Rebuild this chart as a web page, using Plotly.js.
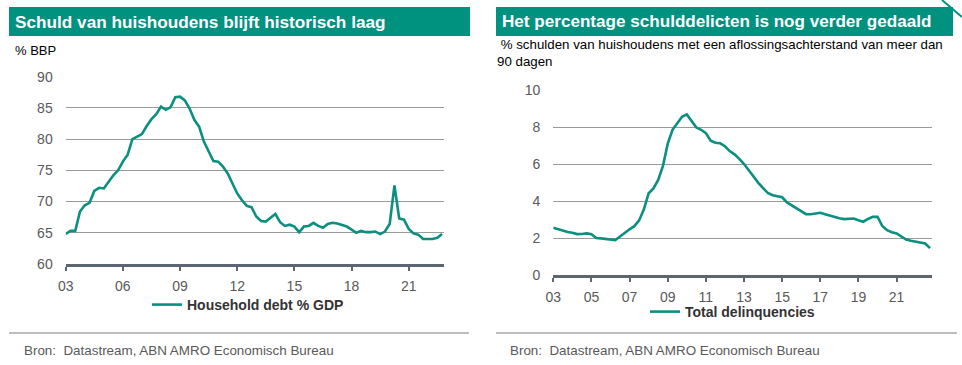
<!DOCTYPE html>
<html>
<head>
<meta charset="utf-8">
<script src="https://cdn.plot.ly/plotly-3.0.1.min.js"></script>
<style>html,body{margin:0;padding:0;background:#fff;}#chart{width:962px;height:365px;}</style>
</head>
<body>
<div id="chart"></div>
<script>
// Quarterly observations, 2003Q1 .. 2022Q4
const startYear = 2003;
const nQuarters = 80;

const householdDebt = [
  64.8, 65.3, 65.3, 68.4,
  69.4, 69.8, 71.7, 72.2,
  72.1, 73.2, 74.2, 75.0,
  76.4, 77.5, 80.0, 80.4,
  80.8, 82.1, 83.2, 84.0,
  85.2, 84.7, 85.1, 86.7,
  86.8, 86.2, 84.9, 83.1,
  82.0, 79.6, 78.0, 76.5,
  76.4, 75.6, 74.5, 72.9,
  71.3, 70.2, 69.3, 69.1,
  67.6, 66.9, 66.8, 67.4,
  68.0, 66.7, 66.1, 66.3,
  66.0, 65.1, 66.0, 66.1,
  66.6, 66.1, 65.8, 66.4,
  66.6, 66.5, 66.2, 66.0,
  65.5, 65.0, 65.3, 65.1,
  65.1, 65.2, 64.8, 65.2,
  66.4, 72.6, 67.3, 67.1,
  65.6, 64.9, 64.7, 64.0,
  64.0, 64.0, 64.2, 64.8
];

const delinquencies = [
  2.56, 2.48, 2.37, 2.32,
  2.28, 2.21, 2.22, 2.25,
  2.21, 2.00, 1.98, 1.94,
  1.90, 1.89, 2.08, 2.30,
  2.47, 2.64, 2.95, 3.55,
  4.42, 4.68, 5.14, 5.90,
  7.10, 7.85, 8.20, 8.55,
  8.68, 8.32, 7.97, 7.85,
  7.67, 7.26, 7.15, 7.12,
  6.96, 6.70, 6.52, 6.28,
  6.00, 5.66, 5.30, 4.98,
  4.70, 4.43, 4.31, 4.26,
  4.20, 3.92, 3.76, 3.63,
  3.45, 3.29, 3.28, 3.32,
  3.36, 3.28, 3.20, 3.13,
  3.07, 3.02, 3.05, 3.05,
  2.96, 2.88, 3.03, 3.14,
  3.15, 2.65, 2.42, 2.31,
  2.25, 2.08, 1.92, 1.85,
  1.81, 1.78, 1.70, 1.45
];

const leftTickVals = [2003, 2006, 2009, 2012, 2015, 2018, 2021];
const leftTickText = ['03', '06', '09', '12', '15', '18', '21'];
const rightTickVals = [2003, 2005, 2007, 2009, 2011, 2013, 2015, 2017, 2019, 2021];
const rightTickText = ['03', '05', '07', '09', '11', '13', '15', '17', '19', '21'];
const leftYTicks = [60, 65, 70, 75, 80, 85, 90];
const rightYTicks = [0, 2, 4, 6, 8, 10];

const quarters = [];
for (let k = 0; k < nQuarters; k++) quarters.push(startYear + k * 0.25);

const W = 962, H = 365;
const px = v => v / W;
const py = v => 1 - v / H;

const teal = '#00917f';
const lineTeal = '#0b8f7e';
const font = 'Arial, "Liberation Sans", sans-serif';

const traces = [
  {x: quarters, y: householdDebt, type: 'scatter', mode: 'lines', name: 'Household debt % GDP',
   line: {color: lineTeal, width: 2.6}, xaxis: 'x', yaxis: 'y', legend: 'legend'},
  {x: quarters, y: delinquencies, type: 'scatter', mode: 'lines', name: 'Total delinquencies',
   line: {color: lineTeal, width: 2.6}, xaxis: 'x2', yaxis: 'y2', legend: 'legend2'}
];

const xCommon = {
  showgrid: false, zeroline: false, showline: true, linecolor: '#5b6670', linewidth: 3,
  ticks: 'outside', ticklen: 4, tickwidth: 2, tickcolor: '#5b6670',
  tickfont: {family: font, size: 14, color: '#595959'}, ticklabelstandoff: 3, fixedrange: true
};
const yCommon = {
  showgrid: true, gridcolor: '#9a9a9a', gridwidth: 1, zeroline: false, showline: false,
  ticks: '', tickfont: {family: font, size: 14, color: '#595959'}, ticklabelstandoff: 12, fixedrange: true
};

const layout = {
  width: W, height: H,
  margin: {l: 0, r: 0, t: 0, b: 0},
  paper_bgcolor: '#ffffff', plot_bgcolor: '#ffffff',
  font: {family: font},
  xaxis: Object.assign({}, xCommon, {domain: [px(65.7), px(444)], range: [2003, 2022.85],
    tickmode: 'array', tickvals: leftTickVals, ticktext: leftTickText, anchor: 'y'}),
  yaxis: Object.assign({}, yCommon, {domain: [py(264), py(76.7)], range: [60, 90],
    tickmode: 'array', tickvals: leftYTicks, anchor: 'x'}),
  xaxis2: Object.assign({}, xCommon, {domain: [px(553.3), px(931.7)], range: [2003, 2022.84],
    tickmode: 'array', tickvals: rightTickVals, ticktext: rightTickText, anchor: 'y2'}),
  yaxis2: Object.assign({}, yCommon, {domain: [py(275), py(90)], range: [0, 10],
    tickmode: 'array', tickvals: rightYTicks, anchor: 'x2'}),
  legend: {x: px(147), y: py(305), xanchor: 'left', yanchor: 'middle', orientation: 'h',
    bgcolor: 'rgba(0,0,0,0)', itemwidth: 30, font: {family: font, size: 14, color: '#333333', weight: 'bold'}},
  legend2: {x: px(645), y: py(312), xanchor: 'left', yanchor: 'middle', orientation: 'h',
    bgcolor: 'rgba(0,0,0,0)', itemwidth: 30, font: {family: font, size: 14, color: '#333333', weight: 'bold'}},
  showlegend: true,
  shapes: [
    {type: 'rect', xref: 'paper', yref: 'paper', x0: px(9), x1: px(470), y0: py(36), y1: py(7),
     fillcolor: teal, line: {width: 0}, layer: 'below'},
    {type: 'rect', xref: 'paper', yref: 'paper', x0: px(496), x1: px(953), y0: py(36), y1: py(7),
     fillcolor: teal, line: {width: 0}, layer: 'below'},
    {type: 'line', xref: 'paper', yref: 'paper', x0: px(942), x1: px(962), y0: py(0), y1: py(17),
     line: {color: teal, width: 2}},
    {type: 'line', xref: 'paper', yref: 'paper', x0: px(9), x1: px(469), y0: py(333), y1: py(333),
     line: {color: '#bdbdbd', width: 2}},
    {type: 'line', xref: 'paper', yref: 'paper', x0: px(496), x1: px(957), y0: py(333), y1: py(333),
     line: {color: '#bdbdbd', width: 2}}
  ],
  annotations: [
    {text: 'Schuld van huishoudens blijft historisch laag', xref: 'paper', yref: 'paper',
     x: px(13), y: py(22), xanchor: 'left', yanchor: 'middle', showarrow: false,
     font: {family: font, size: 17.2, color: '#ffffff', weight: 'bold'}},
    {text: 'Het percentage schulddelicten is nog verder gedaald', xref: 'paper', yref: 'paper',
     x: px(500), y: py(22), xanchor: 'left', yanchor: 'middle', showarrow: false,
     font: {family: font, size: 17.1, color: '#ffffff', weight: 'bold'}},
    {text: '% BBP', xref: 'paper', yref: 'paper', x: px(13), y: py(50), xanchor: 'left', yanchor: 'middle',
     showarrow: false, font: {family: font, size: 13, color: '#000000'}},
    {text: ' % schulden van huishoudens met een aflossingsachterstand van meer dan<br>90 dagen',
     xref: 'paper', yref: 'paper', x: px(495), y: py(35), xanchor: 'left', yanchor: 'top', align: 'left',
     showarrow: false, font: {family: font, size: 13.3, color: '#000000'}},
    {text: 'Bron:  Datastream, ABN AMRO Economisch Bureau', xref: 'paper', yref: 'paper',
     x: px(22), y: py(350), xanchor: 'left', yanchor: 'middle', showarrow: false,
     font: {family: font, size: 13.4, color: '#595959'}},
    {text: 'Bron:  Datastream, ABN AMRO Economisch Bureau', xref: 'paper', yref: 'paper',
     x: px(508), y: py(350), xanchor: 'left', yanchor: 'middle', showarrow: false,
     font: {family: font, size: 13.4, color: '#595959'}}
  ]
};

Plotly.newPlot('chart', traces, layout, {displayModeBar: false, staticPlot: true});
</script>
</body>
</html>
